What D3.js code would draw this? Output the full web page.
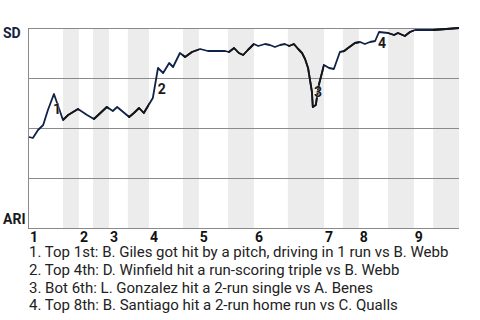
<!DOCTYPE html>
<html>
<head>
<meta charset="utf-8">
<script src="https://cdn.jsdelivr.net/npm/d3@7"></script>
<style>
  body { margin: 0; background: #fff; }
  svg { display: block; font-family: Roboto, "Noto Sans", sans-serif; }
</style>
</head>
<body>
<svg id="chart" width="480" height="320"></svg>
<script>
// game progress (0-100) and SD win probability for each play
const progress = [0, 0.9, 2.1, 3.3, 4.4, 5.8, 6.7, 7.9, 9.1, 11.4, 13.5, 15.1, 18.1, 19.5, 20.5, 21.9,
  23.3, 24.4, 25.6, 26.7, 28.1, 28.8, 30.0, 31.2, 32.6, 33.5, 35.1, 36.3, 37.9, 39.8, 41.6, 43.7,
  45.6, 46.5, 47.7, 48.8, 49.8, 50.9, 52.3, 53.3, 54.9, 56.0, 57.2, 58.4, 59.5, 60.5, 61.6, 62.6,
  63.5, 64.2, 64.9, 65.8, 66.0, 66.7, 67.4, 68.6, 69.8, 70.9, 72.3, 73.3, 74.2, 75.8, 77.0, 78.1,
  79.3, 80.5, 81.4, 83.5, 84.9, 85.8, 87.4, 88.6, 89.8, 94.0, 100]
const sdWinProb = [0.455, 0.45, 0.49, 0.515, 0.59, 0.67, 0.615, 0.54, 0.565, 0.595, 0.565, 0.545, 0.605, 0.585, 0.605, 0.58,
  0.555, 0.575, 0.6, 0.575, 0.625, 0.65, 0.8, 0.775, 0.825, 0.805, 0.875, 0.855, 0.88, 0.895, 0.885, 0.885,
  0.885, 0.88, 0.9, 0.875, 0.865, 0.89, 0.92, 0.91, 0.92, 0.915, 0.905, 0.915, 0.92, 0.91, 0.92, 0.895,
  0.875, 0.845, 0.8, 0.68, 0.605, 0.615, 0.715, 0.815, 0.8, 0.795, 0.88, 0.885, 0.9, 0.925, 0.93, 0.92,
  0.93, 0.935, 0.98, 0.975, 0.965, 0.975, 0.96, 0.98, 0.99, 0.99, 1.0]

// where each half inning starts/ends, in game progress
const halfInningBreaks = [0, 7.9, 11.6, 14.9, 18.6, 23.0, 27.9, 35.8, 39.5, 46.3, 52.3, 60.2, 68.6, 73.0, 76.7, 83.5, 89.5, 94.0, 100]
const innings = ['1', '2', '3', '4', '5', '6', '7', '8', '9']

// big plays
const playNums = ['1', '2', '3', '4']
const playX = [6.5, 30.9, 67.2, 82.1]
const playP = [0.595, 0.695, 0.68, 0.925]
const playNotes = [
  '1. Top 1st: B. Giles got hit by a pitch, driving in 1 run vs B. Webb',
  '2. Top 4th: D. Winfield hit a run-scoring triple vs B. Webb',
  '3. Bot 6th: L. Gonzalez hit a 2-run single vs A. Benes',
  '4. Top 8th: B. Santiago hit a 2-run home run vs C. Qualls'
]

const teams = ['SD', 'ARI']

const svg = d3.select('#chart')
const plotL = 29, plotR = 459, plotT = 28, plotB = 228

const x = d3.scaleLinear().domain([0, 100]).range([plotL, plotR])
const y = d3.scaleLinear().domain([0, 1]).range([plotB, plotT])

const data = progress.map((p, i) => ({ x: p, p: sdWinProb[i] }))

// bottom halves get a grey band
const bottoms = []
for (let i = 1; i < halfInningBreaks.length - 1; i += 2) {
  bottoms.push([halfInningBreaks[i], halfInningBreaks[i + 1]])
}

svg.append('g').selectAll('rect')
  .data(bottoms)
  .enter().append('rect')
    .attr('x', d => x(d[0]))
    .attr('width', d => x(d[1]) - x(d[0]))
    .attr('y', plotT)
    .attr('height', plotB - plotT)
    .attr('fill', '#ececec')

// grid
svg.append('g').selectAll('line')
  .data([0, 0.25, 0.5, 0.75, 1])
  .enter().append('line')
    .attr('x1', plotL).attr('x2', plotR)
    .attr('y1', d => Math.round(y(d)) + 0.5)
    .attr('y2', d => Math.round(y(d)) + 0.5)
    .attr('stroke', '#8a8a8a')
    .attr('stroke-width', 1)

svg.append('line')
  .attr('x1', plotL - 0.5).attr('x2', plotL - 0.5)
  .attr('y1', plotT).attr('y2', plotB + 1)
  .attr('stroke', '#8a8a8a')

// clip for the bottom halves (ARI batting) so the line can be darker there
const defs = svg.append('defs')
const clip = defs.append('clipPath').attr('id', 'bot-clip')
clip.selectAll('rect')
  .data(bottoms)
  .enter().append('rect')
    .attr('x', d => x(d[0]))
    .attr('width', d => x(d[1]) - x(d[0]))
    .attr('y', 0)
    .attr('height', 320)

const line = d3.line()
  .x(d => x(d.x))
  .y(d => y(d.p))

svg.append('path')
  .datum(data)
  .attr('d', line)
  .attr('fill', 'none')
  .attr('stroke', '#0f2247')
  .attr('stroke-width', 1.8)
  .attr('stroke-linejoin', 'round')

svg.append('path')
  .datum(data)
  .attr('d', line)
  .attr('clip-path', 'url(#bot-clip)')
  .attr('fill', 'none')
  .attr('stroke', '#151515')
  .attr('stroke-width', 1.8)
  .attr('stroke-linejoin', 'round')

// play numbers on the line
svg.append('g').selectAll('text')
  .data(playNums)
  .enter().append('text')
    .attr('x', (d, i) => x(playX[i]))
    .attr('y', (d, i) => y(playP[i]))
    .attr('dy', '0.36em')
    .attr('text-anchor', 'middle')
    .attr('font-size', 14)
    .attr('font-weight', 'bold')
    .attr('fill', '#1b1b1b')
    .attr('stroke', '#fff')
    .attr('stroke-width', 0.6)
    .attr('paint-order', 'stroke')
    .text(d => d)

// team labels
svg.append('text')
  .attr('x', 3).attr('y', y(1) + 10)
  .attr('font-size', 14).attr('font-weight', 'bold')
  .attr('fill', '#14213d')
  .text(teams[0])

svg.append('text')
  .attr('x', 3).attr('y', y(0) - 4)
  .attr('font-size', 14).attr('font-weight', 'bold')
  .attr('fill', '#1a1a1a')
  .text(teams[1])

// inning numbers at the start of each inning
svg.append('g').selectAll('text')
  .data(innings)
  .enter().append('text')
    .attr('x', (d, i) => x(halfInningBreaks[i * 2]) + 1)
    .attr('y', 242)
    .attr('font-size', 14)
    .attr('font-weight', 'bold')
    .attr('fill', '#111')
    .text(d => d)

// notes
svg.append('g').selectAll('text')
  .data(playNotes)
  .enter().append('text')
    .attr('x', 29)
    .attr('y', (d, i) => 257 + i * 17.8)
    .attr('font-size', 15)
    .attr('fill', '#222')
    .text(d => d)
</script>
</body>
</html>
